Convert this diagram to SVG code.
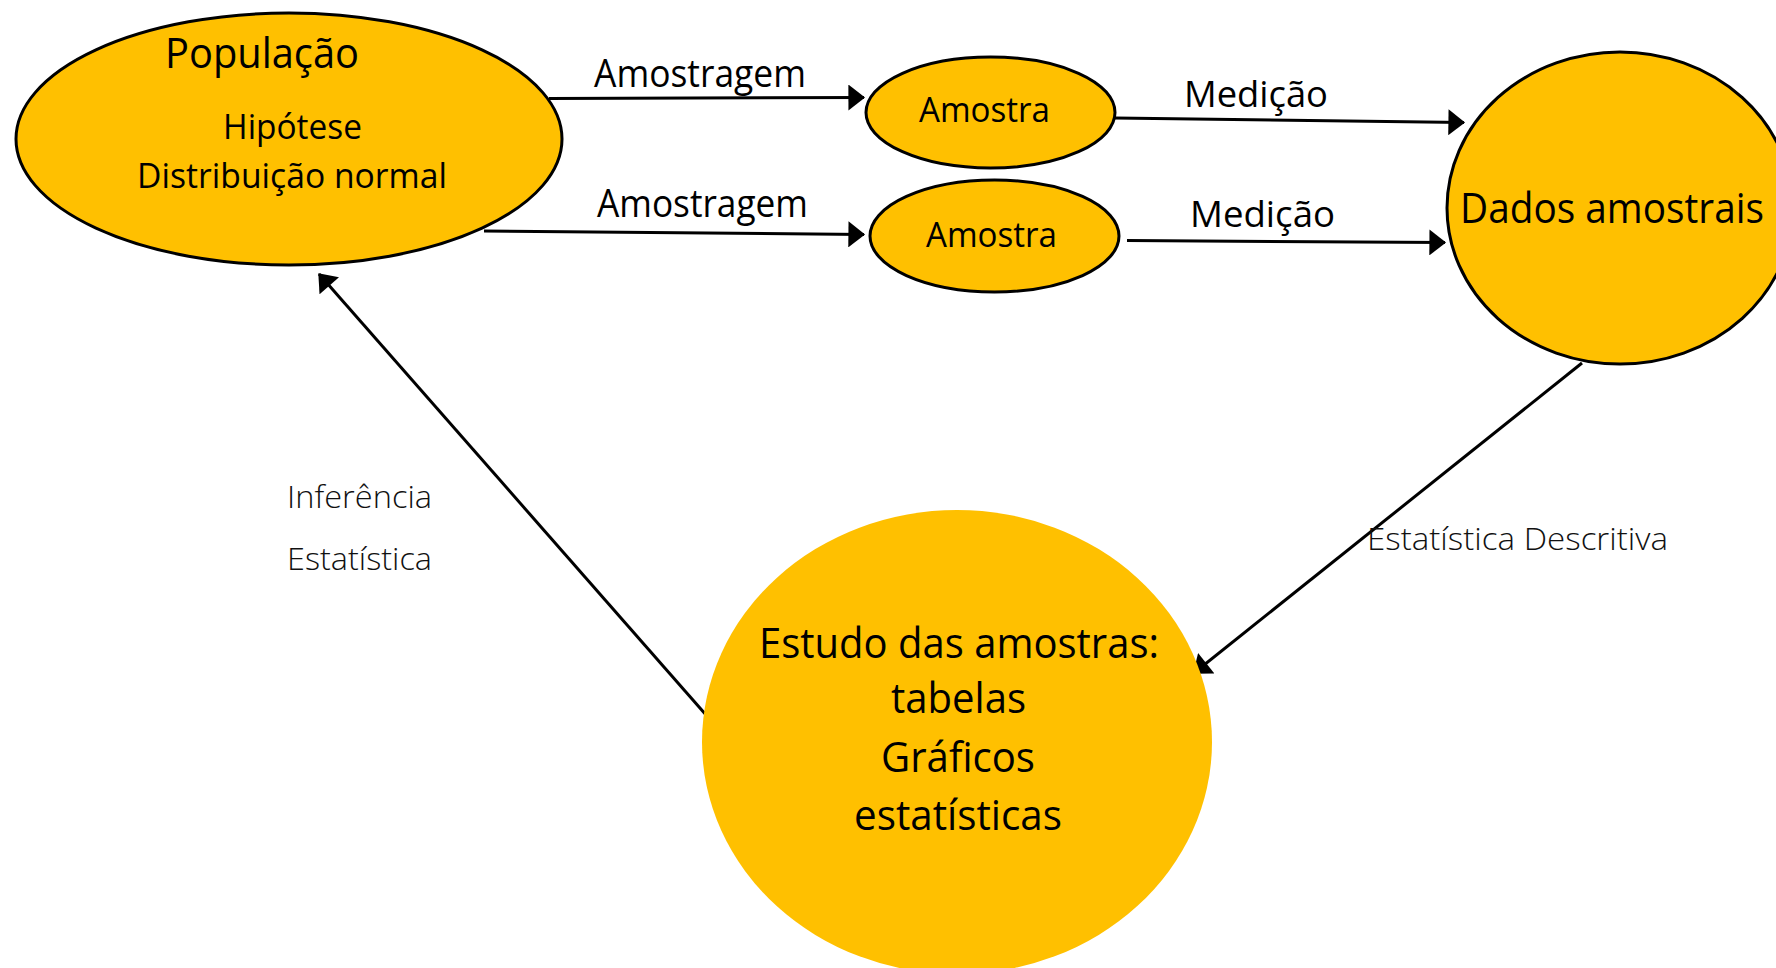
<svg xmlns="http://www.w3.org/2000/svg" width="1776" height="968" viewBox="0 0 1776 968">
  <defs>
    <style>
      .node { fill: #FFC000; stroke: #000; stroke-width: 3; }
      .nodeflat { fill: #FFC000; stroke: none; }
      .t { font-family: "Open Sans", "Noto Sans", "Liberation Sans", sans-serif; fill: #000; }
      .lt { font-family: "Open Sans", "Noto Sans", "Liberation Sans", sans-serif; fill: #111; font-weight: 300; }
      .edge { stroke: #000; stroke-width: 3; fill: none; marker-end: url(#arrow); }
    </style>
    <marker id="arrow" markerUnits="userSpaceOnUse" markerWidth="18" markerHeight="26" viewBox="0 0 16 25" refX="15" refY="12.5" orient="auto">
      <path d="M0,0 L16,12.5 L0,25 Z" fill="#000"/>
    </marker>
  </defs>
  <rect width="1776" height="968" fill="#fff"/>

  <g id="connectors">
    <line class="edge" x1="549" y1="98.5" x2="864" y2="97.5"/>
    <line class="edge" x1="484" y1="231" x2="864" y2="234.5"/>
    <line class="edge" x1="1115" y1="118" x2="1464" y2="122.5"/>
    <line class="edge" x1="1127" y1="240.5" x2="1445" y2="242.5"/>
    <line class="edge" x1="1582" y1="363" x2="1194" y2="673"/>
    <line class="edge" x1="714" y1="724" x2="319" y2="274"/>
    <g id="edge-labels">
      <text class="t" x="594" y="87" font-size="38" textLength="212" lengthAdjust="spacingAndGlyphs">Amostragem</text>
      <text class="t" x="597" y="217" font-size="38" textLength="211" lengthAdjust="spacingAndGlyphs">Amostragem</text>
      <text class="t" x="1184" y="107" font-size="36" textLength="144" lengthAdjust="spacingAndGlyphs">Medição</text>
      <text class="t" x="1190" y="227" font-size="36" textLength="145" lengthAdjust="spacingAndGlyphs">Medição</text>
      <text class="lt" x="287" y="508" font-size="32" textLength="145" lengthAdjust="spacingAndGlyphs">Inferência</text>
      <text class="lt" x="287" y="570" font-size="32" textLength="145" lengthAdjust="spacingAndGlyphs">Estatística</text>
      <text class="lt" x="1367" y="550" font-size="32" textLength="301" lengthAdjust="spacingAndGlyphs">Estatística Descritiva</text>
    </g>
  </g>

  <g id="populacao">
    <ellipse class="node" cx="289" cy="139" rx="273" ry="126"/>
    <text class="t" x="165" y="68" font-size="42" textLength="194" lengthAdjust="spacingAndGlyphs">População</text>
    <text class="t" x="223" y="139" font-size="34" textLength="139" lengthAdjust="spacingAndGlyphs">Hipótese</text>
    <text class="t" x="137" y="188" font-size="34" textLength="310" lengthAdjust="spacingAndGlyphs">Distribuição normal</text>
  </g>

  <g id="amostra1">
    <ellipse class="node" cx="990.5" cy="112.5" rx="124.5" ry="55.5"/>
    <text class="t" x="919" y="122" font-size="35" textLength="131" lengthAdjust="spacingAndGlyphs">Amostra</text>
  </g>

  <g id="amostra2">
    <ellipse class="node" cx="994.5" cy="236" rx="124.5" ry="56"/>
    <text class="t" x="926" y="247" font-size="35" textLength="131" lengthAdjust="spacingAndGlyphs">Amostra</text>
  </g>

  <g id="dados">
    <ellipse class="node" cx="1620" cy="208" rx="173" ry="156"/>
    <text class="t" x="1460" y="223" font-size="42" textLength="304" lengthAdjust="spacingAndGlyphs">Dados amostrais</text>
  </g>

  <g id="estudo">
    <ellipse class="nodeflat" cx="957" cy="742" rx="255" ry="232"/>
    <text class="t" x="759" y="658" font-size="42" textLength="400" lengthAdjust="spacingAndGlyphs">Estudo das amostras:</text>
    <text class="t" x="891" y="713" font-size="42" textLength="135" lengthAdjust="spacingAndGlyphs">tabelas</text>
    <text class="t" x="881" y="772" font-size="42" textLength="154" lengthAdjust="spacingAndGlyphs">Gráficos</text>
    <text class="t" x="854" y="830" font-size="42" textLength="208" lengthAdjust="spacingAndGlyphs">estatísticas</text>
  </g>
</svg>
